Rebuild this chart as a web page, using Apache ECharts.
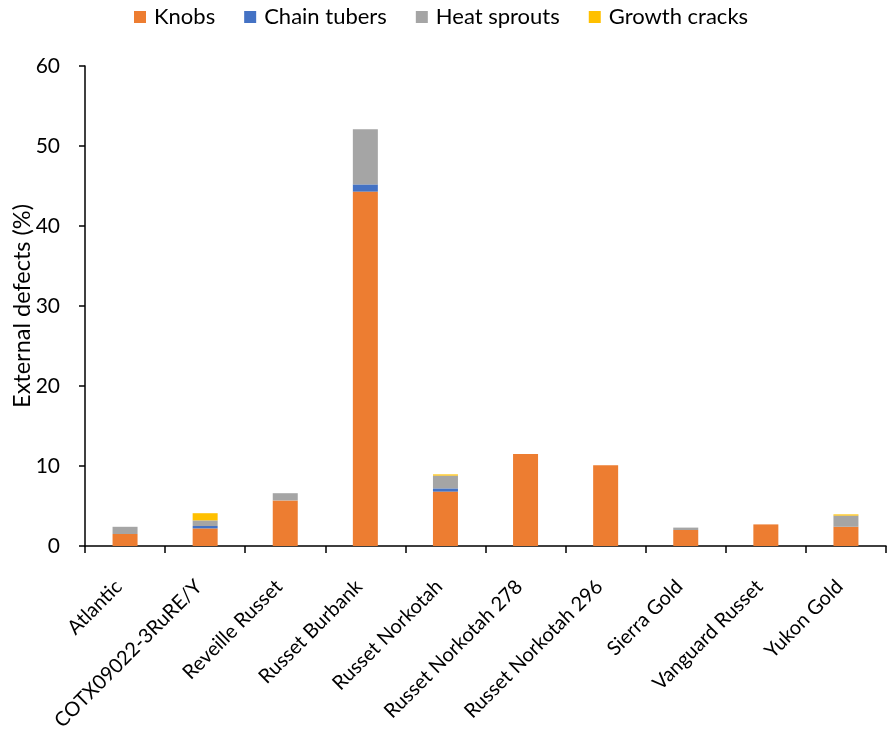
<!DOCTYPE html>
<html>
<head>
<meta charset="utf-8">
<script src="https://cdn.jsdelivr.net/npm/echarts@6/dist/echarts.min.js"></script>
<style>
  html, body { margin: 0; padding: 0; background: #fff; }
  #chart { width: 887px; height: 731px; }
</style>
</head>
<body>
<div id="chart"></div>
<script>
// cultivars on the x axis
var categories = ['Atlantic', 'COTX09022-3RuRE/Y', 'Reveille Russet', 'Russet Burbank',
    'Russet Norkotah', 'Russet Norkotah 278', 'Russet Norkotah 296', 'Sierra Gold',
    'Vanguard Russet', 'Yukon Gold'];

// stacked defect shares (%)
var knobs        = [1.5, 2.2, 5.7, 44.3, 6.8, 11.5, 10.1, 2.0, 2.7, 2.4];
var chainTubers  = [0, 0.3, 0, 0.9, 0.4, 0, 0, 0, 0, 0];
var heatSprouts  = [0.9, 0.7, 0.9, 6.9, 1.6, 0, 0, 0.3, 0, 1.4];
var growthCracks = [0, 0.9, 0, 0, 0.15, 0, 0, 0, 0, 0.15];

var yTicks = { min: 0, max: 60, interval: 10 };

var font = 'Lato, "Open Sans", sans-serif';

var myChart = echarts.init(document.getElementById('chart'));

function bar(name, data, color) {
    return {
        name: name,
        type: 'bar',
        stack: 'defects',
        barWidth: 25,
        itemStyle: { color: color },
        data: data
    };
}

var option = {
    animation: false,
    backgroundColor: '#fff',
    textStyle: { fontFamily: font },
    legend: {
        top: 1,
        left: 129,
        icon: 'rect',
        itemWidth: 12,
        itemHeight: 12,
        itemGap: 29,
        textStyle: { fontSize: 22, color: '#000', fontFamily: font, padding: [0, 0, 0, 3] },
        data: ['Knobs', 'Chain tubers', 'Heat sprouts', 'Growth cracks']
    },
    grid: {
        left: 85,
        right: 1,
        top: 66,
        bottom: 185,
        containLabel: false,
        outerBoundsMode: 'none'
    },
    xAxis: {
        type: 'category',
        data: categories,
        axisLine: { lineStyle: { color: '#000', width: 1.5 } },
        axisTick: { show: true, interval: 0, length: 7, lineStyle: { color: '#000', width: 1.5 } },
        axisLabel: {
            interval: 0,
            rotate: 45,
            fontSize: 20,
            color: '#000',
            margin: 31,
            padding: [0, 9, 0, 0],
            fontFamily: font
        }
    },
    yAxis: {
        type: 'value',
        min: yTicks.min,
        max: yTicks.max,
        interval: yTicks.interval,
        name: 'External defects (%)',
        nameLocation: 'middle',
        nameGap: 51,
        nameMoveOverlap: false,
        nameTextStyle: { fontSize: 23.5, color: '#000', fontFamily: font },
        splitLine: { show: false },
        axisLine: { show: true, lineStyle: { color: '#000', width: 1.5 } },
        axisTick: { show: true, length: 6, lineStyle: { color: '#000', width: 1.5 } },
        axisLabel: { fontSize: 21, color: '#000', margin: 25, fontFamily: font }
    },
    series: [
        bar('Knobs', knobs, '#ED7D31'),
        bar('Chain tubers', chainTubers, '#4472C4'),
        bar('Heat sprouts', heatSprouts, '#A5A5A5'),
        bar('Growth cracks', growthCracks, '#FFC000')
    ]
};
myChart.setOption(option);
</script>
</body>
</html>
